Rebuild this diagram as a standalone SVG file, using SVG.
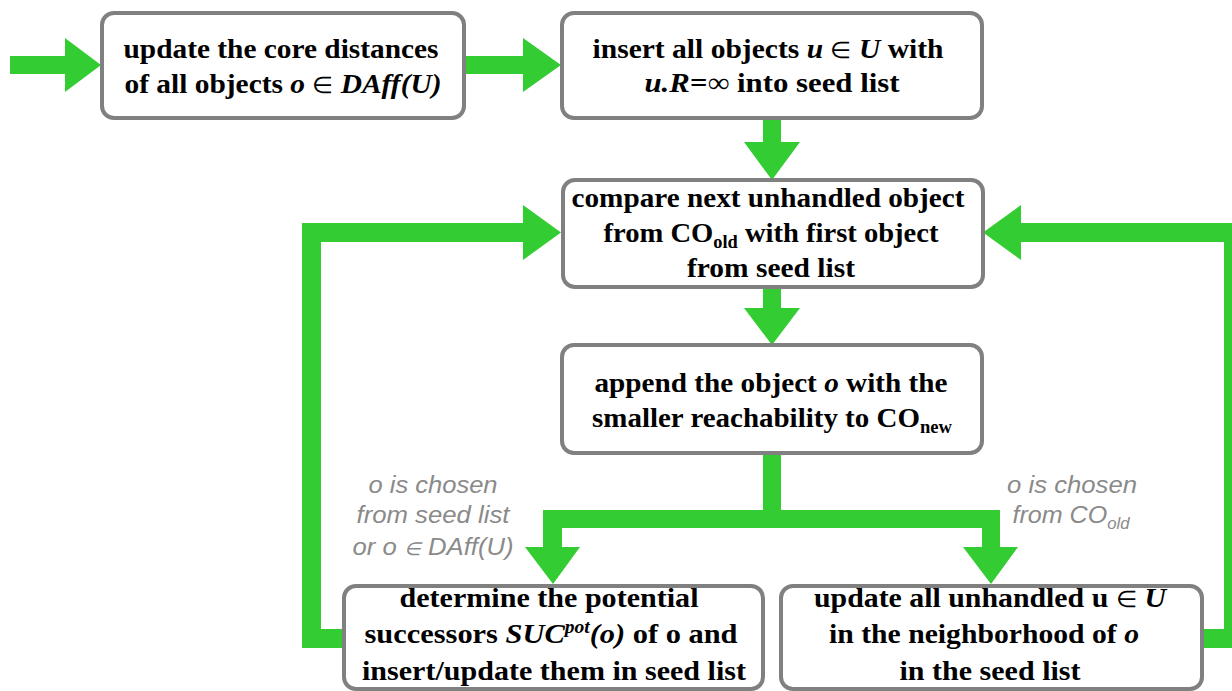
<svg xmlns="http://www.w3.org/2000/svg" width="1232" height="691" viewBox="0 0 1232 691">
  <style>
    .box { fill: #ffffff; stroke: #808080; stroke-width: 4; }
    .t { font-family: "Liberation Serif", "Times New Roman", serif; font-size: 28px; font-weight: bold; fill: #000000; text-anchor: middle; }
    .it { font-style: italic; }
    .sub { font-size: 18px; }
    .elem { font-size: 23px; font-weight: normal; }
    .lbl { font-family: "Liberation Sans", Arial, sans-serif; font-size: 24px; font-style: italic; fill: #8a8a8a; text-anchor: middle; }
    .flow { fill: #33cc33; stroke: none; }
  </style>

  <!-- connectors -->
  <g id="connectors">
    <polygon class="flow" points="10,56 65,56 65,38 101,65 65,92 65,74 10,74"/>
    <polygon class="flow" points="465,56 523,56 523,38 561,65 523,92 523,74 465,74"/>
    <polygon class="flow" points="763,118 781,118 781,142 800,142 772,180 744,142 763,142"/>
    <polygon class="flow" points="763,287 781,287 781,308 800,308 772,345 744,308 763,308"/>
    <path class="flow" d="M763,453 H781 V510 H1000 V547 H1018 L991,584 L963,547 H982 V528 H562 V547 H580 L553,584 L525,547 H543 V510 H763 Z"/>
    <path class="flow" d="M344,629 H321 V242 H523 V260 L561,232.5 L523,205 V223 H302 V648 H344 Z"/>
    <path class="flow" d="M1202,629 H1224 V242 H1021 V260 L983,232.5 L1021,205 V223 H1243 V648 H1202 Z"/>
  </g>

  <g id="node-update-core">
    <rect class="box" x="102" y="13" width="362" height="105" rx="12"/>
    <text class="t" x="281" y="58" textLength="315" lengthAdjust="spacingAndGlyphs">update the core distances</text>
    <text class="t" x="283" y="93" textLength="317" lengthAdjust="spacingAndGlyphs">of all objects <tspan class="it">o</tspan> <tspan class="elem">∈</tspan> <tspan class="it">DAff(U)</tspan></text>
  </g>

  <g id="node-insert-all">
    <rect class="box" x="562" y="13" width="420" height="105" rx="12"/>
    <text class="t" x="768" y="58" textLength="351" lengthAdjust="spacingAndGlyphs">insert all objects <tspan class="it">u</tspan> <tspan class="elem">∈</tspan> <tspan class="it">U</tspan> with</text>
    <text class="t" x="772" y="92" textLength="255" lengthAdjust="spacingAndGlyphs"><tspan class="it">u.R=∞</tspan> into seed list</text>
  </g>

  <g id="node-compare">
    <rect class="box" x="563" y="180" width="420" height="107" rx="12"/>
    <text class="t" x="768" y="207" textLength="393" lengthAdjust="spacingAndGlyphs">compare next unhandled object</text>
    <text class="t" x="771" y="242" textLength="335" lengthAdjust="spacingAndGlyphs">from CO<tspan class="sub" dy="6">old</tspan><tspan dy="-6"> with first object</tspan></text>
    <text class="t" x="771" y="277" textLength="168" lengthAdjust="spacingAndGlyphs">from seed list</text>
  </g>

  <g id="node-append">
    <rect class="box" x="562" y="345" width="420" height="108" rx="12"/>
    <text class="t" x="771" y="392" textLength="353" lengthAdjust="spacingAndGlyphs">append the object <tspan class="it">o</tspan> with the</text>
    <text class="t" x="772" y="427" textLength="360" lengthAdjust="spacingAndGlyphs">smaller reachability to CO<tspan class="sub" dy="6">new</tspan></text>
  </g>

  <g id="node-determine">
    <rect class="box" x="344" y="586" width="419" height="103" rx="12"/>
    <text class="t" x="549" y="607" textLength="299" lengthAdjust="spacingAndGlyphs">determine the potential</text>
    <text class="t" x="551" y="643" textLength="373" lengthAdjust="spacingAndGlyphs">successors <tspan class="it">SUC</tspan><tspan class="it sub" dy="-10">pot</tspan><tspan class="it" dy="10">(o)</tspan> of o and</text>
    <text class="t" x="554" y="680" textLength="384" lengthAdjust="spacingAndGlyphs">insert/update them in seed list</text>
  </g>

  <g id="node-update-unhandled">
    <rect class="box" x="781" y="586" width="421" height="103" rx="12"/>
    <text class="t" x="990" y="607" textLength="352" lengthAdjust="spacingAndGlyphs">update all unhandled u <tspan class="elem">∈</tspan> <tspan class="it">U</tspan></text>
    <text class="t" x="984" y="643" textLength="310" lengthAdjust="spacingAndGlyphs">in the neighborhood of <tspan class="it">o</tspan></text>
    <text class="t" x="990" y="680" textLength="181" lengthAdjust="spacingAndGlyphs">in the seed list</text>
  </g>

  <g id="label-seed-list">
    <text class="lbl" x="433" y="493" textLength="129" lengthAdjust="spacingAndGlyphs">o is chosen</text>
    <text class="lbl" x="433" y="523" textLength="153" lengthAdjust="spacingAndGlyphs">from seed list</text>
    <text class="lbl" x="433" y="555" textLength="161" lengthAdjust="spacingAndGlyphs">or o <tspan font-size="18">∈</tspan> DAff(U)</text>
  </g>

  <g id="label-co-old">
    <text class="lbl" x="1072" y="493" textLength="130" lengthAdjust="spacingAndGlyphs">o is chosen</text>
    <text class="lbl" x="1071" y="523" textLength="117" lengthAdjust="spacingAndGlyphs">from CO<tspan font-size="16" dy="6">old</tspan></text>
  </g>
</svg>
